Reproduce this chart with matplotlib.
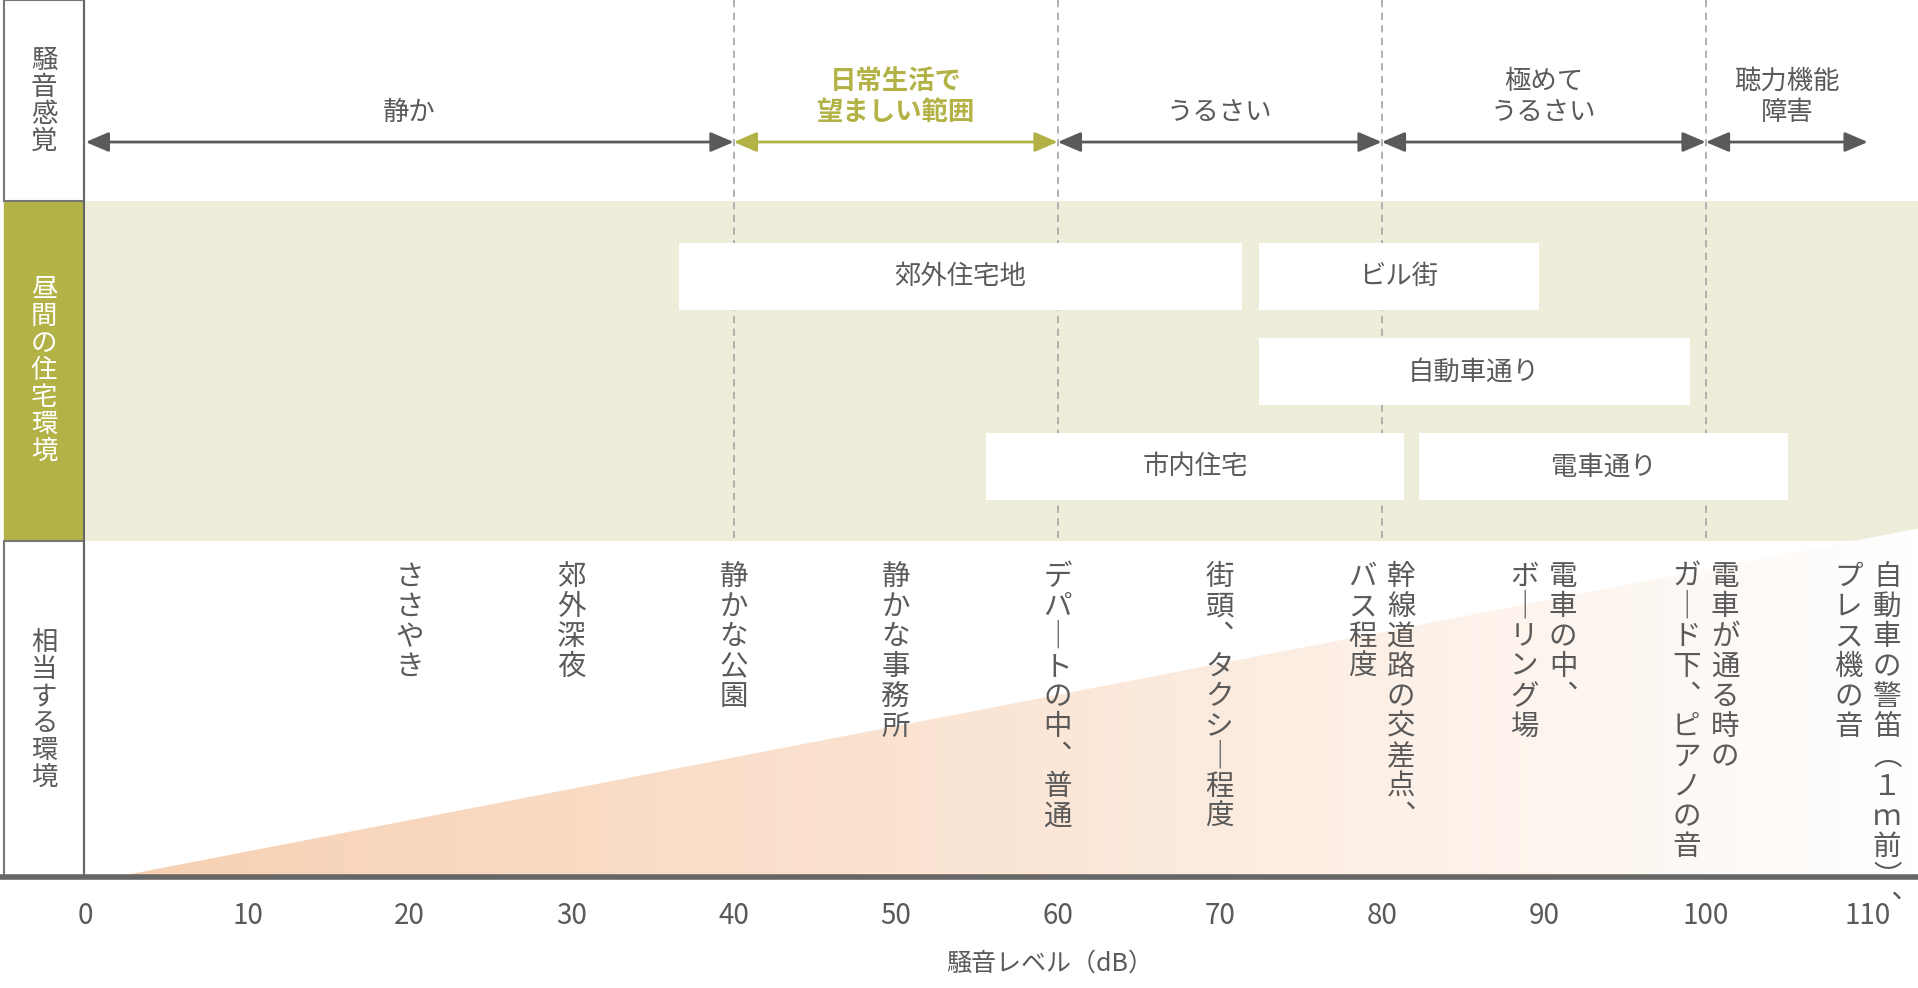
import numpy as np
import matplotlib.pyplot as plt
from matplotlib.patches import Rectangle, Polygon
from matplotlib.colors import LinearSegmentedColormap

plt.rcParams['font.family'] = 'Noto Sans CJK JP'

# ---- data ----
db_ticks = [0, 10, 20, 30, 40, 50, 60, 70, 80, 90, 100, 110]
boundaries = [0, 40, 60, 80, 100, 110]
feel_labels = ['静か', '日常生活で\n望ましい範囲', 'うるさい', '極めて\nうるさい', '聴力機能\n障害']
# daytime residential environments: (label, start dB, end dB, row)
env_labels = ['郊外住宅地', 'ビル街', '自動車通り', '市内住宅', '電車通り']
env_start = [36.6, 72.4, 72.4, 55.6, 82.3]
env_end = [71.4, 89.7, 99.0, 81.4, 105.1]
env_row = [0, 0, 1, 2, 2]
# equivalent environments, columns written right to left
ex_db = [20, 30, 40, 50, 60, 70, 80, 90, 100, 110]
ex_cols = [
    ['ささやき'],
    ['郊外深夜'],
    ['静かな公園'],
    ['静かな事務所'],
    ['デパ｜トの中︑普通'],
    ['街頭︑タクシ｜程度'],
    ['幹線道路の交差点︑', 'バス程度'],
    ['電車の中︑', 'ボ｜リング場'],
    ['電車が通る時の', 'ガ｜ド下︑ピアノの音'],
    ['自動車の警笛︵１ｍ前︶︑', 'プレス機の音'],
]

GRAY = '#5a5a5a'
OLIVE = '#b3b246'
BAND = '#eeedd9'

fig = plt.figure(figsize=(19.18, 9.88), dpi=100)
ax = fig.add_axes([0, 0, 1, 1])
px = 13.245  # pixels per dB in the layout grid
ax.set_xlim(-70 / px, (1568 - 70) / px)
ax.set_ylim(800, 0)
ax.axis('off')

def xp(p):
    return (p - 70) / px

# left header column
ax.add_patch(Rectangle((xp(3), 163), xp(69) - xp(3), 275, color=OLIVE, zorder=2))
for y0, y1 in [(0, 163), (438, 710)]:
    ax.add_patch(Rectangle((xp(3), y0), xp(69) - xp(3), y1 - y0, fc='white', ec='#777777', lw=1.5, zorder=2))
ax.plot([xp(69), xp(69)], [0, 710], color='#666666', lw=1.5, zorder=3)
ax.text(xp(36), 82, '\n'.join('騒音感覚'), ha='center', va='center', fontsize=19, color=GRAY, linespacing=1.0, zorder=4)
ax.text(xp(36), 300, '\n'.join('昼間の住宅環境'), ha='center', va='center', fontsize=19, color='white', linespacing=1.0, zorder=4)
ax.text(xp(36), 575, '\n'.join('相当する環境'), ha='center', va='center', fontsize=19, color=GRAY, linespacing=1.0, zorder=4)

# band
ax.add_patch(Rectangle((0, 163), xp(1568), 275, fc=BAND, ec='none', zorder=1))

# dashed boundaries
for b in boundaries[1:-1]:
    ax.plot([b, b], [0, 438], color='#aaaaaa', lw=1.3, ls=(0, (4, 3)), zorder=1.5)

# feeling arrows
for i, lab in enumerate(feel_labels):
    a, b = boundaries[i], boundaries[i + 1]
    c = OLIVE if i == 1 else GRAY
    ax.annotate('', xy=(b, 115), xytext=(a, 115),
                arrowprops=dict(arrowstyle='<|-|>,head_length=1.4,head_width=0.6', color=c, lw=2, shrinkA=0, shrinkB=0))
    ax.text((a + b) / 2, 102, lab, ha='center', va='bottom', fontsize=19, color=c, linespacing=1.2,
            fontweight='bold' if i == 1 else 'normal')

# environment boxes
row_y = [197, 274, 351]
for lab, s, e, r in zip(env_labels, env_start, env_end, env_row):
    ax.add_patch(Rectangle((s, row_y[r]), e - s, 54, fc='white', ec='none', zorder=2))
    ax.text((s + e) / 2, row_y[r] + 27, lab, ha='center', va='center', fontsize=19, color=GRAY, zorder=3)

# orange gradient triangle
grad = np.linspace(0, 1, 256)[None, :]
cmap = LinearSegmentedColormap.from_list('o', ['#f7d0b2', '#fbe6d6', '#ffffff'])
im = ax.imshow(grad, cmap=cmap, extent=[xp(100), xp(1568), 710, 425], aspect='auto', zorder=1)
tri = Polygon([(xp(95), 710), (xp(1568), 428), (xp(1568), 710)], closed=True, transform=ax.transData)
im.set_clip_path(tri)

# equivalent environment vertical texts
for d, cols in zip(ex_db, ex_cols):
    n = len(cols)
    for j, col in enumerate(cols):
        off = 0 if n == 1 else (1.2 if j == 0 else -1.2)
        ax.text(d + off, 455, '\n'.join(col), ha='center', va='top', fontsize=20.5, color=GRAY,
                linespacing=1.0, zorder=4)

# axis
ax.plot([xp(0), xp(1568)], [710, 710], color='#666666', lw=4, zorder=5)
for t in db_ticks:
    ax.text(t, 742, str(t), ha='center', va='center', fontsize=20, color=GRAY)
ax.text(59.5, 780, '騒音レベル（dB）', ha='center', va='center', fontsize=18, color=GRAY)

fig.savefig('out.png', dpi=100)
